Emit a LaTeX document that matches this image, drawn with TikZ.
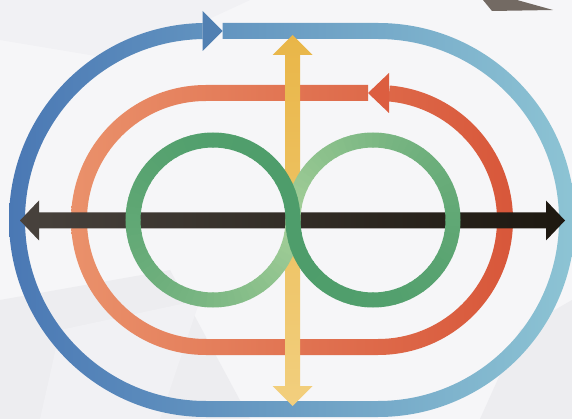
\documentclass[tikz,border=0pt]{standalone}
\begin{document}
\begin{tikzpicture}[x=1pt,y=-1pt]
\definecolor{bg}{HTML}{F6F6F8}
\definecolor{bgA}{HTML}{EDEDF0}
\definecolor{bgB}{HTML}{F1F1F4}
\definecolor{sliver}{HTML}{736A63}
\definecolor{blueL}{HTML}{4A78B4}
\definecolor{blueM}{HTML}{5888AF}
\definecolor{blueR}{HTML}{8DC4D4}
\definecolor{blueHead}{HTML}{5180B2}
\definecolor{orL}{HTML}{EA916B}
\definecolor{orM}{HTML}{E26C4E}
\definecolor{orR}{HTML}{D8573A}
\definecolor{orHead}{HTML}{DC5E40}
\definecolor{gD}{HTML}{4E9D6B}
\definecolor{gL}{HTML}{A6D09A}
\definecolor{yT}{HTML}{E9B648}
\definecolor{yB}{HTML}{F2CF7E}
\definecolor{kL}{HTML}{48423D}
\definecolor{kR}{HTML}{1D1810}
\tikzset{ringseg/.style={line width=15pt, line cap=butt}}
\useasboundingbox (0,0) rectangle (572,419);
% background
\fill[bg] (0,0) rectangle (572,419);
\fill[bgB] (0,0) -- (250,0) -- (120,60) -- (0,40) -- cycle;
\fill[bgA] (0,300) -- (170,270) -- (250,419) -- (0,419) -- cycle;
\fill[bgB] (60,330) -- (200,300) -- (160,419) -- (40,419) -- cycle;
\fill[bgA] (520,330) -- (572,300) -- (572,419) -- (480,419) -- cycle;
\fill[sliver] (483,0) -- (517,0) -- (553,10) -- (492,11) -- cycle;
% outer blue loop
\shade[left color=blueL, middle color=blueM, right color=blueR]
  (222.7,23) -- (378,23) arc[start angle=-90, end angle=90, radius=197]
  -- (206,417) arc[start angle=90, end angle=270, radius=197]
  -- (202.7,23) -- (202.7,39) -- (206,39)
  arc[start angle=270, end angle=90, radius=181]
  -- (378,401) arc[start angle=90, end angle=-90, radius=181]
  -- (222.7,39) -- cycle;
\fill[blueHead] (202.7,11) -- (222.7,31) -- (202.7,51) -- cycle;
% orange loop
\shade[left color=orL, middle color=orM, right color=orR]
  (368,85) -- (206,85) arc[start angle=270, end angle=90, radius=135]
  -- (378,355) arc[start angle=90, end angle=-85, radius=135]
  -- ++(95:16) arc[start angle=-85, end angle=90, radius=119]
  -- (206,339) arc[start angle=90, end angle=270, radius=119]
  -- (368,101) -- cycle;
\fill[orHead] (389,73) -- (368,93) -- (389,113) -- cycle;
% yellow vertical double arrow
\shade[top color=yT, bottom color=yB]
  (292.5,35) -- (312.5,55) -- (300,55) -- (300,386) -- (312.5,386)
  -- (292.5,406) -- (272.5,386) -- (285,386) -- (285,55) -- (272.5,55) -- cycle;
% black horizontal double arrow
\shade[left color=kL, right color=kR]
  (20,220.5) -- (39,200.5) -- (39,212.5) -- (546,212.5) -- (546,200.5)
  -- (565,220.5) -- (546,240.5) -- (546,228.5) -- (39,228.5) -- (39,240.5) -- cycle;
% green figure eight
\foreach \i in {71,70,...,0}{
  \pgfmathtruncatemacro{\pct}{max(0,min(100,100*(\i/71)^2.2))}
  \pgfmathsetmacro{\aA}{-5*\i+0.4}
  \pgfmathsetmacro{\aB}{-5*(\i+1)-0.4}
  \pgfmathsetmacro{\bA}{180-5*\i+0.4}
  \pgfmathsetmacro{\bB}{180-5*(\i+1)-0.4}
  \draw[ringseg, color=gL!\pct!gD] (213,220) ++(\aA:80) arc[start angle=\aA, end angle=\aB, radius=80];
  \draw[ringseg, color=gL!\pct!gD] (373,220) ++(\bA:80) arc[start angle=\bA, end angle=\bB, radius=80];
}
\end{tikzpicture}
\end{document}
